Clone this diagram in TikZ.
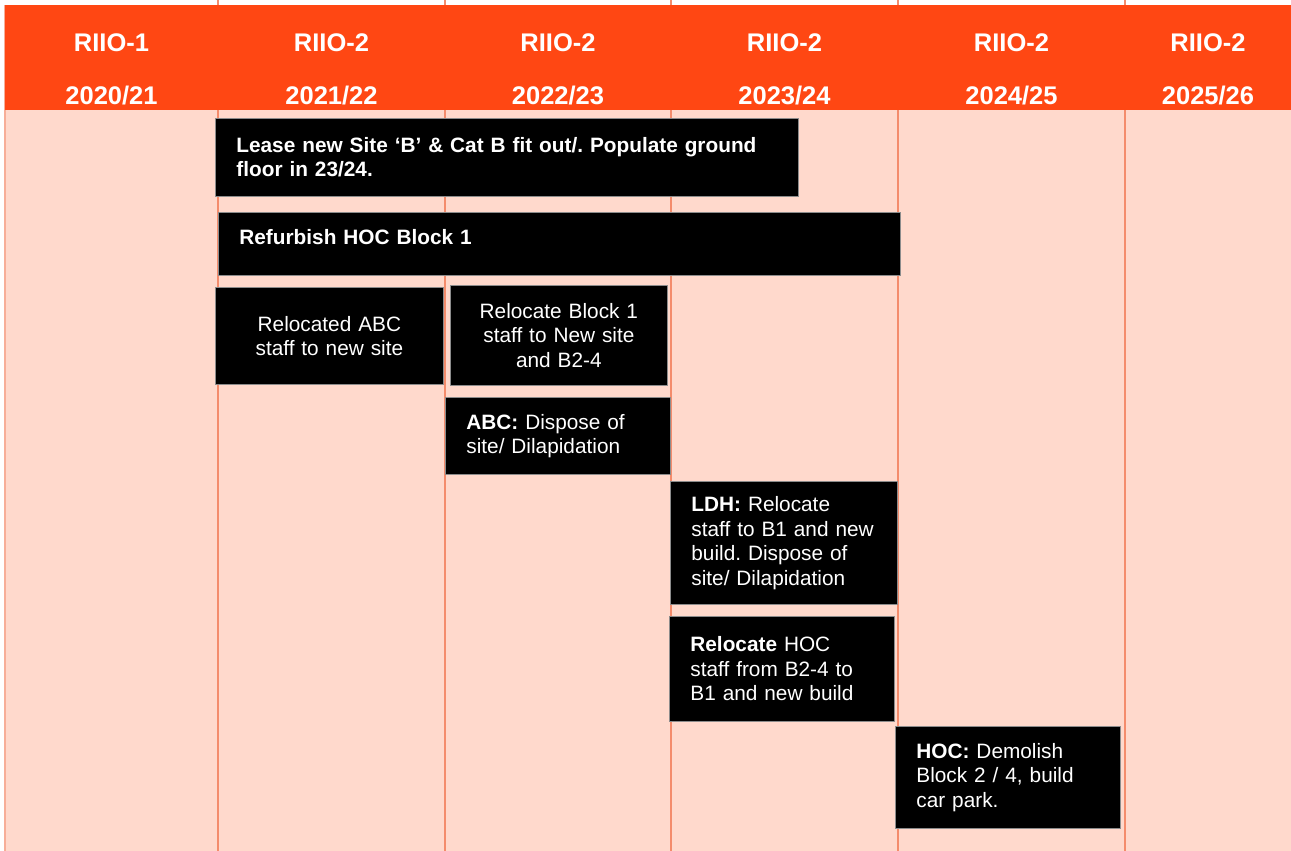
\documentclass[tikz,border=0pt]{standalone}
\usepackage{fontspec}
\setmainfont{Liberation Sans}
\usetikzlibrary{positioning}
\frenchspacing
\definecolor{headorange}{RGB}{255,71,19}
\definecolor{bodypink}{RGB}{255,217,204}
\definecolor{gridline}{RGB}{244,140,108}
\tikzstyle{period}=[text=white, font=\fontsize{25.5}{30}\selectfont\bfseries, anchor=base, inner sep=0pt]
\tikzstyle{task}=[fill=black, draw=black!45, line width=0.8pt, text=white, inner xsep=21pt, inner ysep=0pt, anchor=north west, font=\fontsize{20.8}{24.5}\selectfont]
\tikzstyle{lefttask}=[task, align=left]
\tikzstyle{midtask}=[task, align=center]

\begin{document}
\begin{tikzpicture}[x=1pt, y=-1pt]
    \useasboundingbox (0,0) rectangle (1291,851);

    % background and year columns
    \fill[bodypink] (5,110) rectangle (1291,851);
    \draw[gridline!70, line width=1.2pt] (5,5) -- (5,851);
    \draw[gridline, line width=1.2pt] (218,0) -- (218,851);
    \draw[gridline, line width=1.2pt] (445,0) -- (445,851);
    \draw[gridline, line width=1.2pt] (671,0) -- (671,851);
    \draw[gridline, line width=1.2pt] (898,0) -- (898,851);
    \draw[gridline, line width=1.2pt] (1125,0) -- (1125,851);
    \fill[headorange] (5,5) rectangle (1291,110);

    % header
    \node[period] (r1) at (111.5,52) {RIIO-1};
    \node[period] (y1) at (111.5,104) {2020/21};
    \node[period] (r2) at (331.5,52) {RIIO-2};
    \node[period] (y2) at (331.5,104) {2021/22};
    \node[period] (r3) at (558,52) {RIIO-2};
    \node[period] (y3) at (558,104) {2022/23};
    \node[period] (r4) at (784.5,52) {RIIO-2};
    \node[period] (y4) at (784.5,104) {2023/24};
    \node[period] (r5) at (1011.5,52) {RIIO-2};
    \node[period] (y5) at (1011.5,104) {2024/25};
    \node[period] (r6) at (1208,52) {RIIO-2};
    \node[period] (y6) at (1208,104) {2025/26};

    % activities
    \node[lefttask, text width=541pt, minimum height=78pt, font=\fontsize{20.8}{24.5}\selectfont\bfseries]
          (lease) at (215,118) {Lease new Site `B' \& Cat B fit out/. Populate ground\\floor in 23/24.};
    \node[lefttask, text width=640pt, minimum height=63pt, text depth=13pt, font=\fontsize{20.8}{24.5}\selectfont\bfseries]
          (refurb) at (218,212) {Refurbish HOC Block 1};
    \node[midtask, text width=186pt, minimum height=97pt]
          (abcmove) at (215,287) {Relocated ABC\\staff to new site};
    \node[midtask, text width=175pt, minimum height=100pt]
          (b1move) at (450,285) {Relocate Block 1\\staff to New site\\and B2-4};
    \node[lefttask, text width=183pt, minimum height=77pt]
          (abcsite) at (445,397) {\textbf{ABC:} Dispose of\\site/ Dilapidation};
    \node[lefttask, text width=185pt, minimum height=123pt]
          (ldh) at (670,481) {\textbf{LDH:} Relocate\\staff to B1 and new\\build. Dispose of\\site/ Dilapidation};
    \node[lefttask, text width=183pt, minimum height=105pt]
          (hocmove) at (669,616) {\textbf{Relocate} HOC\\staff from B2-4 to\\B1 and new build};
    \node[lefttask, text width=183pt, minimum height=102pt]
          (demolish) at (895,726) {\textbf{HOC:} Demolish\\Block 2 / 4, build\\car park.};
\end{tikzpicture}
\end{document}
